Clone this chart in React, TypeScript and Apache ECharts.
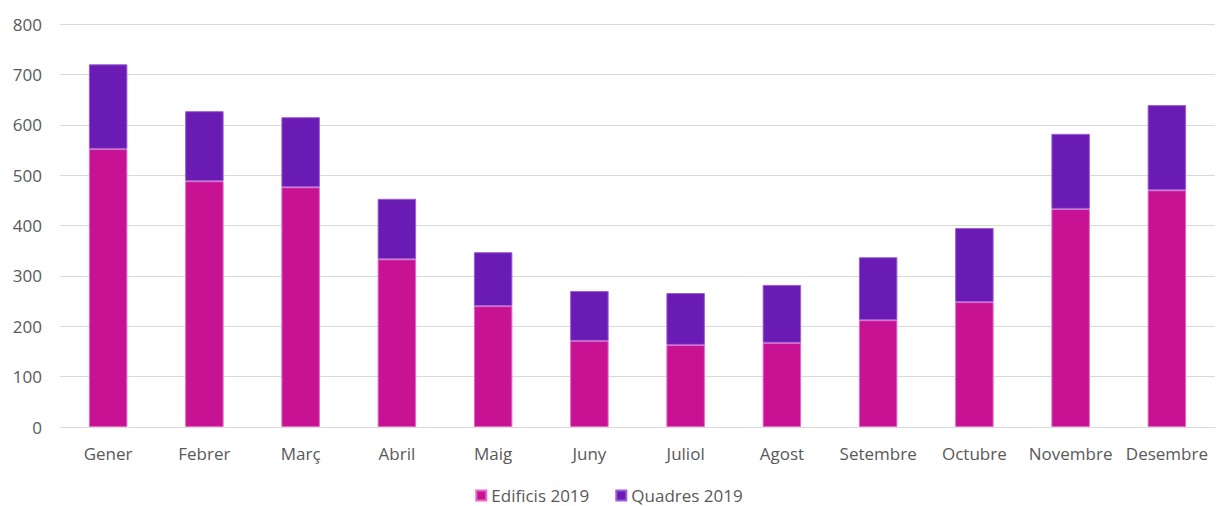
import React, { useEffect, useRef } from "react";
import * as echarts from "echarts";

const months = ["Gener", "Febrer", "Març", "Abril", "Maig", "Juny", "Juliol", "Agost", "Setembre", "Octubre", "Novembre", "Desembre"];
const edificis = [552, 488, 476, 333, 240, 171, 163, 167, 212, 248, 433, 470];
const quadres = [168, 139, 139, 120, 107, 99, 103, 115, 125, 147, 149, 169];

export default function App() {
  const ref = useRef<HTMLDivElement>(null);
  useEffect(() => {
    const chart = echarts.init(ref.current!, undefined, { renderer: "svg" });
    const font = "'Open Sans', 'Noto Sans', sans-serif";
    chart.setOption({
      animation: false,
      grid: { left: 60, right: 3, top: 24, bottom: 79 },
      legend: {
        top: 487,
        left: "center",
        padding: 0,
        itemWidth: 10,
        itemHeight: 10,
        itemGap: 26,
        icon: "rect",
        textStyle: { color: "#595959", fontSize: 17, fontFamily: font },
        data: ["Edificis 2019", "Quadres 2019"],
      },
      xAxis: {
        type: "category",
        data: months,
        axisLine: { lineStyle: { color: "#d9d9d9" } },
        axisTick: { show: false },
        axisLabel: { color: "#595959", fontSize: 17, fontFamily: font, margin: 18, interval: 0 },
      },
      yAxis: {
        type: "value",
        min: 0,
        max: 800,
        interval: 100,
        axisLine: { show: false },
        axisTick: { show: false },
        splitLine: { lineStyle: { color: "#d9d9d9", width: 1 } },
        axisLabel: { color: "#595959", fontSize: 17, fontFamily: font, margin: 18 },
      },
      series: [
        {
          name: "Edificis 2019",
          type: "bar",
          stack: "t",
          data: edificis,
          barWidth: "40%",
          itemStyle: { color: "#C71393", borderColor: "#E36BC8", borderWidth: 1 },
        },
        {
          name: "Quadres 2019",
          type: "bar",
          stack: "t",
          data: quadres,
          barWidth: "40%",
          itemStyle: { color: "#6A1BB3", borderColor: "#9B5FD6", borderWidth: 1 },
        },
      ],
    });
    return () => chart.dispose();
  }, []);
  return <div ref={ref} style={{ position: "absolute", left: 0, top: 0, width: 1218, height: 506 }} />;
}
